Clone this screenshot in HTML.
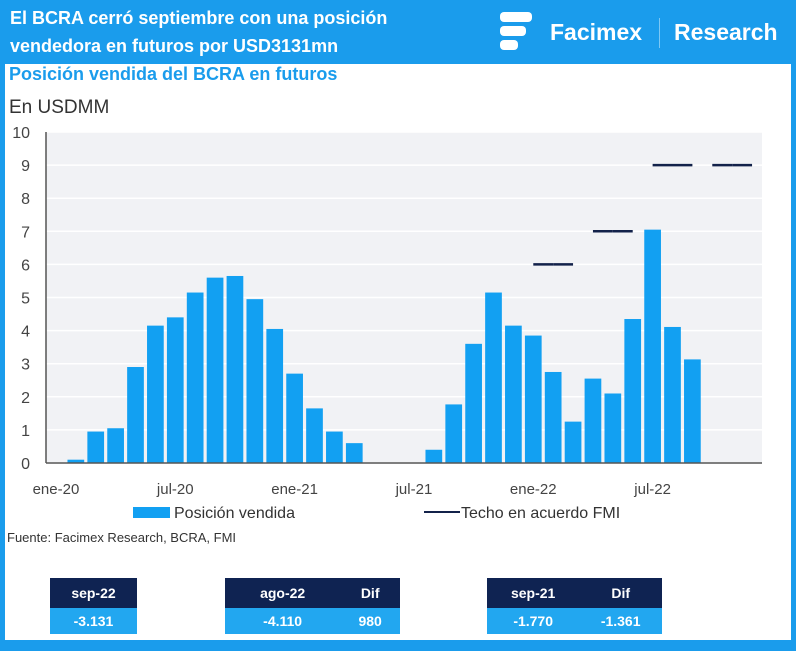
<!DOCTYPE html>
<html><head><meta charset="utf-8">
<style>
body{margin:0;width:800px;height:651px;overflow:hidden;background:#fff;font-family:"Liberation Sans",sans-serif;}
#frame{position:absolute;left:0;top:0;width:786px;height:640px;border-left:5px solid #1a9cec;border-right:5px solid #1a9cec;border-bottom:11px solid #1a9cec;}
#header{position:absolute;left:0;top:0;width:796px;height:64px;background:#1a9cec;}
.t{position:absolute;color:#fff;font-weight:bold;}
table{position:absolute;border-collapse:collapse;font-size:14px;font-weight:bold;text-align:center;}
th{background:#0f2352;color:#fff;height:30px;padding:0;}
td{background:#22a7f0;color:#fff;height:26px;padding:0;}
</style></head><body>
<div id="frame"></div>
<div id="header">
 <div class="t" style="left:10px;top:4px;font-size:18px;line-height:28px;">El BCRA cerró septiembre con una posición<br>vendedora en futuros por USD3131mn</div>
 <svg style="position:absolute;left:500px;top:12px" width="34" height="42"><rect x="0" y="0" width="32" height="10" rx="4" fill="#fff"/><rect x="0" y="14" width="26" height="10" rx="4" fill="#fff"/><rect x="0" y="28" width="18" height="10" rx="4" fill="#fff"/></svg>
 <div class="t" style="left:550px;top:19px;font-size:23px;">Facimex</div>
 <div style="position:absolute;left:659px;top:18px;width:1px;height:30px;background:#7cc8f5"></div>
 <div class="t" style="left:674px;top:19px;font-size:23px;">Research</div>
</div>
<div style="position:absolute;left:9px;top:64px;font-size:18px;font-weight:bold;color:#1a9cec;">Posición vendida del BCRA en futuros</div>
<div style="position:absolute;left:9px;top:97px;font-size:19px;color:#333;">En USDMM</div>
<svg id="chart" style="position:absolute;left:0;top:0" width="800" height="530"></svg>
<div style="position:absolute;left:7px;top:530px;font-size:13px;color:#333;">Fuente: Facimex Research, BCRA, FMI</div>
<table style="left:50px;top:578px;width:87px"><tr><th>sep-22</th></tr><tr><td>-3.131</td></tr></table>
<table style="left:225px;top:578px;width:175px"><tr><th>ago-22</th><th>Dif</th></tr><tr><td>-4.110</td><td>980</td></tr></table>
<table style="left:487px;top:578px;width:175px"><tr><th>sep-21</th><th>Dif</th></tr><tr><td>-1.770</td><td>-1.361</td></tr></table>
<script>
const months=["ene-20","feb-20","mar-20","abr-20","may-20","jun-20","jul-20","ago-20","sep-20","oct-20","nov-20","dic-20","ene-21","feb-21","mar-21","abr-21","may-21","jun-21","jul-21","ago-21","sep-21","oct-21","nov-21","dic-21","ene-22","feb-22","mar-22","abr-22","may-22","jun-22","jul-22","ago-22","sep-22","oct-22","nov-22","dic-22"];
const posicion=[0,0.1,0.95,1.05,2.9,4.15,4.4,5.15,5.6,5.65,4.95,4.05,2.7,1.65,0.95,0.6,0,0,0,0.4,1.77,3.6,5.15,4.15,3.85,2.75,1.25,2.55,2.1,4.35,7.05,4.11,3.13,null,null,null];
const techo=[null,null,null,null,null,null,null,null,null,null,null,null,null,null,null,null,null,null,null,null,null,null,null,null,6,6,6,7,7,7,9,9,9,9,9,9];
const techoGroup=[0,0,0,0,0,0,0,0,0,0,0,0,0,0,0,0,0,0,0,0,0,0,0,0,1,1,1,2,2,2,3,3,3,4,4,4];
const yTicks=[0,1,2,3,4,5,6,7,8,9,10];
const xLabelIdx=[0,6,12,18,24,30];
const svg=document.getElementById('chart');const NS='http://www.w3.org/2000/svg';
const X0=46,X1=762,Y0=463,Y1=132,band=(X1-X0)/months.length;
const y=v=>Y0-(v/10)*(Y0-Y1);const xc=i=>X0+band*(i+0.5);
function mk(t,a){const e=document.createElementNS(NS,t);for(const k in a)e.setAttribute(k,a[k]);svg.appendChild(e);return e;}
let bg=mk('rect',{x:X0,y:Y1,width:X1-X0,height:Y0-Y1,fill:'#f1f2f5'});

yTicks.forEach(v=>{
 const g=mk('line',{x1:X0,x2:X1,y1:y(v),y2:y(v),stroke:'#fff','stroke-width':1.5});
 
 const t=mk('text',{x:30,y:y(v)+6,'text-anchor':'end','font-size':16,fill:'#444'});t.textContent=v;
 
});
posicion.forEach((v,i)=>{if(v==null||v<=0)return;
 const r=mk('rect',{x:xc(i)-band*0.42,y:y(v),width:band*0.84,height:Y0-y(v),fill:'#12a0f2'});
 
});
for(let i=0;i<techo.length-1;i++){if(techo[i]==null||techo[i+1]==null||techoGroup[i]!==techoGroup[i+1])continue;
 const l=mk('line',{x1:xc(i),x2:xc(i+1),y1:y(techo[i]),y2:y(techo[i+1]),stroke:'#13224a','stroke-width':2.5});
 
}
let ax=mk('line',{x1:X0,x2:X1,y1:Y0,y2:Y0,stroke:'#555','stroke-width':1.5});
let ay=mk('line',{x1:X0,x2:X0,y1:Y1,y2:Y0,stroke:'#555','stroke-width':1.5});
xLabelIdx.forEach(i=>{const t=mk('text',{x:xc(i),y:494,'text-anchor':'middle','font-size':15,fill:'#444'});t.textContent=months[i];
 });
let lr=mk('rect',{x:133,y:507,width:37,height:11,fill:'#12a0f2'});
let lt=mk('text',{x:174,y:518,'font-size':16,fill:'#333'});lt.textContent='Posición vendida';
let ll=mk('line',{x1:424,x2:460,y1:512,y2:512,stroke:'#13224a','stroke-width':2});
let lt2=mk('text',{x:461,y:518,'font-size':16,fill:'#333'});lt2.textContent='Techo en acuerdo FMI';
</script>
</body></html>
